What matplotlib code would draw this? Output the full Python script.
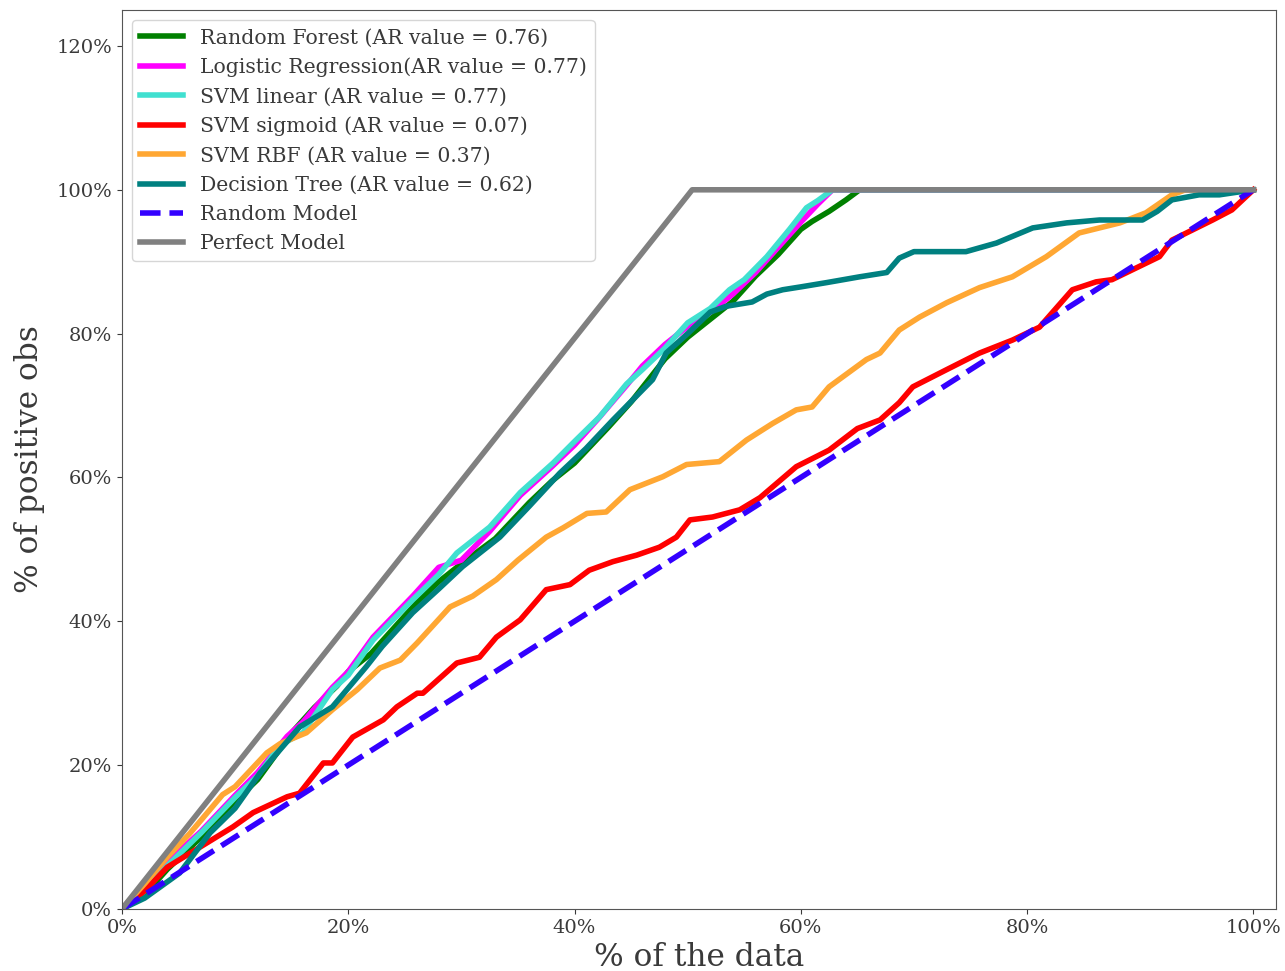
import matplotlib.pyplot as plt
from matplotlib.ticker import PercentFormatter

# values, in percent
rf_x = [0, 2, 4, 7, 10, 12, 15, 17, 19, 20, 22, 24, 26, 28, 30, 33, 36, 38, 40, 43, 45, 48, 50, 52, 54, 56, 58, 60, 61, 62.5, 64, 65.2, 100]
rf_y = [0, 2, 5.5, 10, 15, 18, 24.5, 28, 31, 33, 35.5, 39, 42.5, 45.5, 48, 51.5, 56.5, 59.5, 62, 67, 70.5, 76.5, 79.5, 82, 84.5, 88, 91, 94.5, 95.6, 97, 98.6, 100, 100]

lr_x = [0, 2, 4, 7, 10, 12, 14.6, 16, 18.6, 20, 22.2, 25.7, 28, 30, 32.5, 35.2, 38, 40, 42, 44.6, 46, 48, 50, 52, 54, 56, 58, 60, 61.5, 62.8, 100]
lr_y = [0, 2.8, 6.5, 10.8, 15.8, 19, 24, 26, 30.8, 33, 37.8, 43.5, 47.5, 48.5, 52.5, 57.5, 61.5, 64.5, 68, 72.8, 75.5, 78.5, 81, 83, 85.5, 88.5, 92, 95.5, 98, 100, 100]

svl_x = [0, 2, 4, 7, 10, 12, 14, 16, 18.6, 20, 22.2, 25.7, 28, 29.6, 32.5, 35.2, 38.1, 40, 42.2, 44.6, 46, 48, 50, 52, 53.7, 55, 57, 59, 60.5, 61.5, 62.8, 100]
svl_y = [0, 2.5, 6, 10.6, 15.5, 18.5, 22.8, 24.5, 30.5, 32.5, 37.4, 43, 46.5, 49.5, 53.1, 57.9, 62, 65, 68.4, 73, 75, 78, 81.5, 83.5, 86.1, 87.5, 90.7, 94.5, 97.5, 98.5, 100, 100]

sig_x = [0, 2, 4, 6.9, 9.8, 11.6, 14.6, 15.7, 17.8, 18.6, 20.4, 23.1, 24.3, 26.1, 26.6, 29.6, 31.6, 33.1, 35.2, 37.5, 39.6, 41.3, 43.4, 45.5, 47.5, 49, 50.2, 52.2, 54.6, 56.4, 59.6, 62.5, 65, 67, 68.7, 69.9, 72.9, 75.8, 78.7, 81.1, 84, 86.1, 87.5, 91.7, 92.8, 96.4, 98.1, 100]
sig_y = [0, 2.5, 5.8, 8.6, 11.4, 13.4, 15.6, 16.1, 20.3, 20.3, 23.9, 26.3, 28.1, 30, 30, 34.2, 35, 37.8, 40.2, 44.4, 45.1, 47.1, 48.3, 49.2, 50.3, 51.7, 54.1, 54.5, 55.5, 57.2, 61.5, 63.8, 66.8, 68, 70.4, 72.6, 75, 77.3, 79.1, 80.9, 86.1, 87.2, 87.5, 90.7, 93, 95.8, 97.2, 100]

rbf_x = [0, 2, 4, 6, 8.9, 10, 12.8, 14, 16.3, 18.6, 20.8, 22.8, 24.6, 26.1, 29, 31, 33.1, 35, 37.5, 39, 41.1, 42.8, 44.9, 47.8, 49.9, 52.8, 55.2, 57.5, 59.6, 61, 62.5, 65.8, 67, 68.7, 70.5, 72.9, 75.8, 78.7, 81.7, 84.6, 88.2, 90.5, 92.8, 94, 100]
rbf_y = [0, 3.5, 7.2, 10.5, 15.9, 17, 21.7, 23, 24.5, 27.7, 30.5, 33.5, 34.6, 37, 42, 43.5, 45.8, 48.5, 51.7, 53, 55, 55.2, 58.3, 60.1, 61.8, 62.2, 65.2, 67.5, 69.4, 69.8, 72.6, 76.4, 77.3, 80.5, 82.3, 84.3, 86.4, 87.9, 90.7, 94, 95.4, 96.8, 99.3, 100, 100]

dt_x = [0, 2, 5.1, 7.8, 10, 12.2, 15.7, 18.6, 21.6, 23, 25.7, 28, 30.1, 33.4, 36, 38.7, 41, 43.4, 46.9, 48.1, 50, 52, 53.4, 55.7, 57, 58.4, 60, 62.3, 65.2, 67.6, 68.7, 70, 74.6, 77.3, 80.5, 83.5, 86.4, 90.2, 91.5, 92.8, 95.2, 97, 100]
dt_y = [0, 1.5, 5, 10.6, 14, 18.9, 25.3, 28.1, 33.7, 36.5, 41.2, 44.5, 47.6, 51.7, 56, 60.6, 64, 68, 73.6, 77.3, 80, 83, 83.8, 84.4, 85.5, 86.1, 86.5, 87.1, 87.9, 88.5, 90.5, 91.4, 91.4, 92.6, 94.7, 95.4, 95.8, 95.8, 97, 98.6, 99.3, 99.3, 100]

random_x = [0, 100]
random_y = [0, 100]
perfect_x = [0, 50.4, 100]
perfect_y = [0, 100, 100]

labels = ['Random Forest (AR value = 0.76)', 'Logistic Regression(AR value = 0.77)',
          'SVM linear (AR value = 0.77)', 'SVM sigmoid (AR value = 0.07)',
          'SVM RBF (AR value = 0.37)', 'Decision Tree (AR value = 0.62)',
          'Random Model', 'Perfect Model']

plt.rcParams['font.family'] = 'DejaVu Serif'
txt = '#3a3a3a'

fig = plt.figure(figsize=(12.85, 9.71), dpi=100)
ax = fig.add_axes([0.0949, 0.0639, 0.8981, 0.9258])

ax.plot(rf_x, rf_y, color='green', lw=4, label=labels[0])
ax.plot(lr_x, lr_y, color='magenta', lw=4, label=labels[1])
ax.plot(svl_x, svl_y, color='turquoise', lw=4, label=labels[2])
ax.plot(sig_x, sig_y, color='red', lw=4, label=labels[3])
ax.plot(rbf_x, rbf_y, color='#ffa733', lw=4, label=labels[4])
ax.plot(dt_x, dt_y, color='teal', lw=4, label=labels[5])
ax.plot(random_x, random_y, color='#3300ff', lw=4, linestyle='--', label=labels[6])
ax.plot(perfect_x, perfect_y, color='grey', lw=4, label=labels[7])

ax.set_xlim(0, 102)
ax.set_ylim(0, 125)
ax.set_xticks([0, 20, 40, 60, 80, 100])
ax.set_yticks([0, 20, 40, 60, 80, 100, 120])
ax.xaxis.set_major_formatter(PercentFormatter(100, decimals=0))
ax.yaxis.set_major_formatter(PercentFormatter(100, decimals=0))
ax.tick_params(labelsize=14, colors=txt)
for s in ax.spines.values():
    s.set_color('#555555')

ax.set_xlabel('% of the data', fontsize=22.5, color=txt, labelpad=4)
ax.set_ylabel('% of positive obs', fontsize=22.5, color=txt, labelpad=8)

leg = ax.legend(loc='upper left', fontsize=14.7, handlelength=2.1, labelspacing=0.5,
                borderaxespad=0.5)
for t in leg.get_texts():
    t.set_color(txt)

fig.savefig('out.png', dpi=100)
